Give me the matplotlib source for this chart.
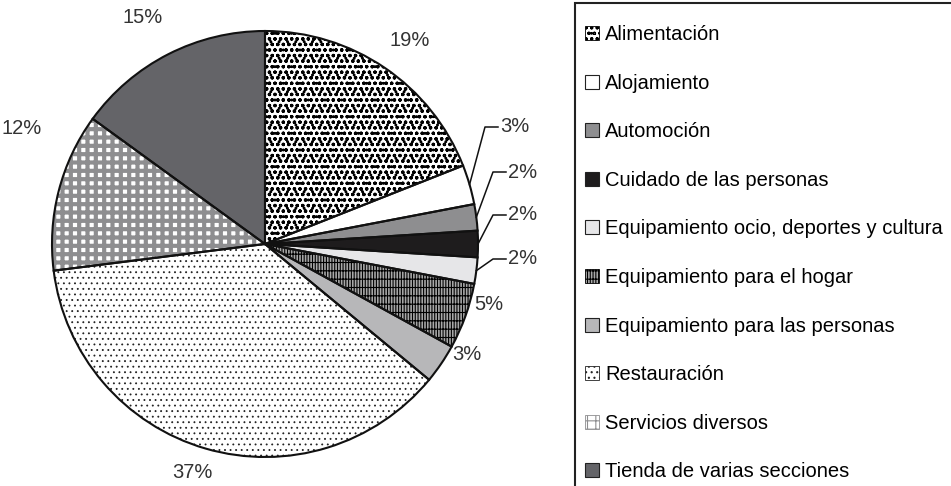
import matplotlib
matplotlib.use("Agg")
import matplotlib.pyplot as plt
import numpy as np
from matplotlib.patches import Patch, Rectangle

plt.rcParams['font.family'] = ['Liberation Sans Narrow', 'Liberation Sans', 'DejaVu Sans']
plt.rcParams['hatch.linewidth'] = 0.8

categories = ['Alimentación', 'Alojamiento', 'Automoción', 'Cuidado de las personas',
              'Equipamiento ocio, deportes y cultura', 'Equipamiento para el hogar',
              'Equipamiento para las personas', 'Restauración', 'Servicios diversos',
              'Tienda de varias secciones']
values = [19, 3, 2, 2, 2, 5, 3, 37, 12, 15]
pct_labels = ['19%', '3%', '2%', '2%', '2%', '5%', '3%', '37%', '12%', '15%']

# fill style per slice: (face, hatch colour, hatch, hatch line width)
styles = [
    ('white', 'black', 'ooo..', 0.9),
    ('white', 'black', None, 0),
    ('#8e8e90', 'black', None, 0),
    ('#1e1c1d', 'black', None, 0),
    ('#e6e6e8', 'black', None, 0),
    ('#a8a8a8', 'black', '||||++', 0.8),
    ('#b7b7b9', 'black', None, 0),
    ('white', '#222222', '...', 0.6),
    ('white', '#8e8e90', '++', 3.0),
    ('#646468', 'black', None, 0),
]

# label positions in pixels from top-left; leader labels give the text's left edge
label_pos = [(410, 41), (500, 127), (508, 172), (508, 215), (508, 259),
             (489, 305), (467, 355), (192, 472), (22, 128), (143, 18)]
leader = [False, True, True, True, True, False, False, False, False, False]

W, H = 951, 486
fig = plt.figure(figsize=(W / 100, H / 100), dpi=100)
ax = fig.add_axes([0, 0, 1, 1])

cx, cy, R = 265, H - 244, 213


def apply_hatch(p, hc, hatch, hlw):
    p.set_hatch(hatch)
    p.set_edgecolor(hc)
    if hasattr(p, 'set_hatch_linewidth'):
        p.set_hatch_linewidth(hlw)
    else:
        p._hatch_linewidth = hlw


wedges, _ = ax.pie(values, colors=[s[0] for s in styles], startangle=90, counterclock=False,
                   center=(cx, cy), radius=R, frame=True,
                   wedgeprops=dict(linewidth=0))
for w, (fc, hc, hatch, hlw) in zip(wedges, styles):
    if hatch:
        apply_hatch(w, hc, hatch, hlw)
ax.pie(values, startangle=90, counterclock=False,
       center=(cx, cy), radius=R, frame=True,
       wedgeprops=dict(fill=False, edgecolor='#111111', linewidth=1.5))
ax.set_xlim(0, W)
ax.set_ylim(0, H)
ax.set_aspect('equal')
ax.axis('off')

for w, txt, (tx, ty), lead in zip(wedges, pct_labels, label_pos, leader):
    ty = H - ty
    if lead:
        ang = np.deg2rad((w.theta1 + w.theta2) / 2)
        ex, ey = cx + R * np.cos(ang), cy + R * np.sin(ang)
        ax.plot([ex, tx - 15, tx - 2], [ey, ty, ty], color='#111111', lw=1.1)
        ax.text(tx, ty, txt, ha='left', va='center', fontsize=14.5, color='#333333')
    else:
        ax.text(tx, ty, txt, ha='center', va='center', fontsize=14.5, color='#333333')

# legend frame runs off the right and bottom edges of the picture
ax.add_patch(Rectangle((575, -10), 420, H - 3 + 10, fill=False,
                       edgecolor='#222222', linewidth=1.5, clip_on=False))

handles = []
for fc, hc, hatch, hlw in styles:
    if hatch:
        p = Patch(facecolor=fc, edgecolor=hc, hatch=hatch, linewidth=0.6)
        apply_hatch(p, hc, hatch, min(hlw, 1.5))
        handles.append(p)
    else:
        handles.append(Patch(facecolor=fc, edgecolor='#222222', linewidth=0.8))

fig.legend(handles, categories, loc='upper left', bbox_to_anchor=(585 / W, 1 - 25 / H),
           frameon=False, fontsize=14.5, handlelength=0.7, handleheight=0.7,
           handletextpad=0.3, labelspacing=1.47, borderaxespad=0, borderpad=0)

fig.savefig('out.png', dpi=100)
